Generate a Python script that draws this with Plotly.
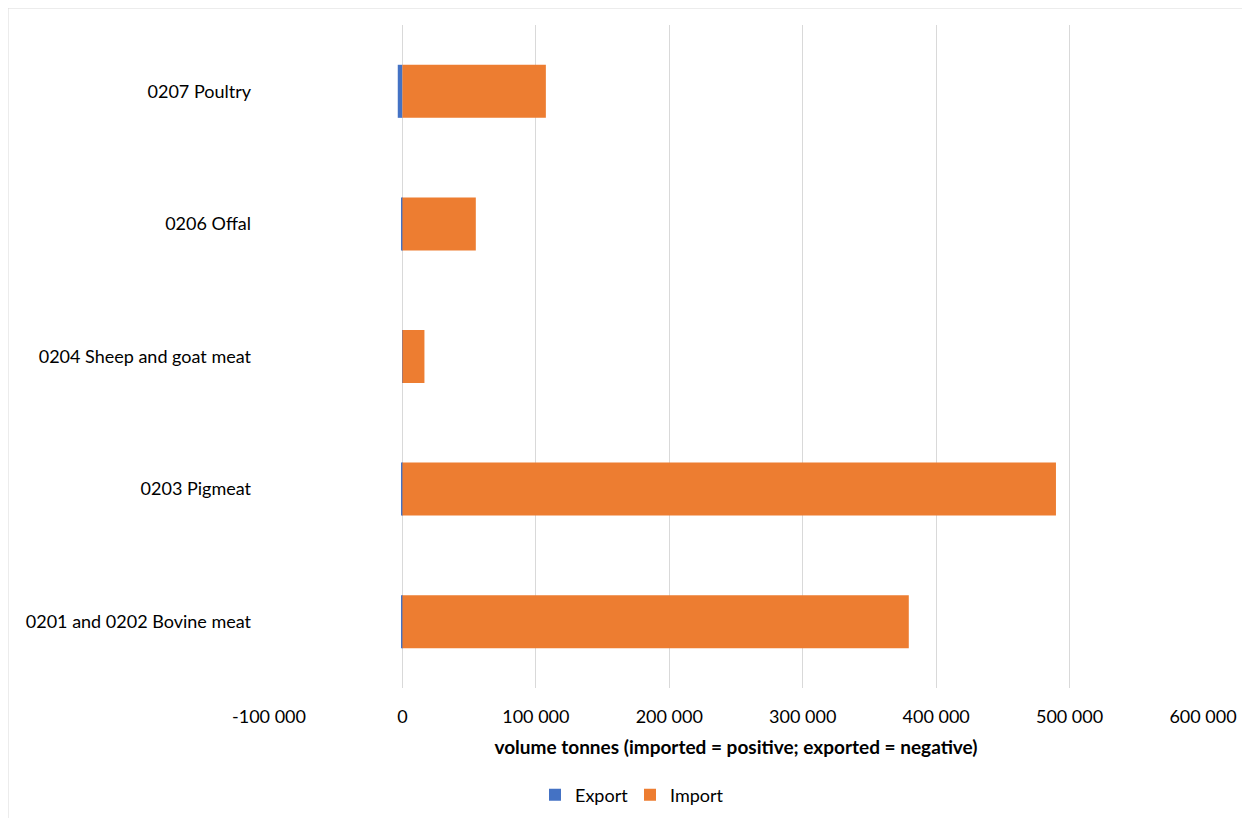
import plotly.graph_objects as go

categories = ["0201 and 0202 Bovine meat", "0203 Pigmeat", "0204 Sheep and goat meat", "0206 Offal", "0207 Poultry"]
export_vals = [-600, -700, -300, -500, -3500]
import_vals = [379500, 489800, 16500, 55000, 107500]
tick_vals = [-100000, 0, 100000, 200000, 300000, 400000, 500000, 600000]
tick_text = ["-100 000", "0", "100 000", "200 000", "300 000", "400 000", "500 000", "600 000"]

FONT = "Lato, 'Open Sans', sans-serif"

fig = go.Figure()
fig.add_trace(go.Bar(y=categories, x=export_vals, orientation="h", name="Export",
                     marker=dict(color="#4472C4", line=dict(width=0))))
fig.add_trace(go.Bar(y=categories, x=import_vals, orientation="h", name="Import",
                     marker=dict(color="#ED7D31", line=dict(width=0))))

# page body adds an 8px offset, so the figure is sized for the remaining area
W, H = 1242, 810
L, R, T, B = 261, 47, 17, 130
pw = W - L - R
ph = H - T - B

fig.update_layout(
    width=W, height=H,
    barmode="relative", bargap=0.6,
    plot_bgcolor="white", paper_bgcolor="white",
    margin=dict(l=L, r=R, t=T, b=B, pad=0),
    font=dict(family=FONT, size=18, color="#000000"),
    showlegend=True,
    legend=dict(orientation="h", xref="container", yref="container",
                x=(527) / W, xanchor="left", y=1 - 787 / H, yanchor="middle",
                entrywidth=50, entrywidthmode="pixels",
                font=dict(size=18, color="#000"), traceorder="normal"),
    xaxis=dict(range=[-100000, 600000], tickvals=tick_vals, ticktext=tick_text,
               showgrid=True, gridcolor="#d9d9d9", gridwidth=1, zeroline=False,
               showline=False, ticks="", ticklabelstandoff=16,
               title=dict(text="<b>volume tonnes (imported = positive; exported = negative)</b>",
                          font=dict(size=19), standoff=14)),
    yaxis=dict(showgrid=False, zeroline=False, showline=False, ticks="",
               ticklabelstandoff=17, categoryorder="array", categoryarray=categories),
    shapes=[dict(type="rect", xref="paper", yref="paper",
                 x0=(0 - L) / pw, x1=(1300 - L) / pw,
                 y0=(H - B - 900) / ph, y1=(H - B - 0) / ph,
                 line=dict(color="#d9d9d9", width=1), fillcolor="rgba(0,0,0,0)", layer="below")],
)

fig.write_html("out.html")
